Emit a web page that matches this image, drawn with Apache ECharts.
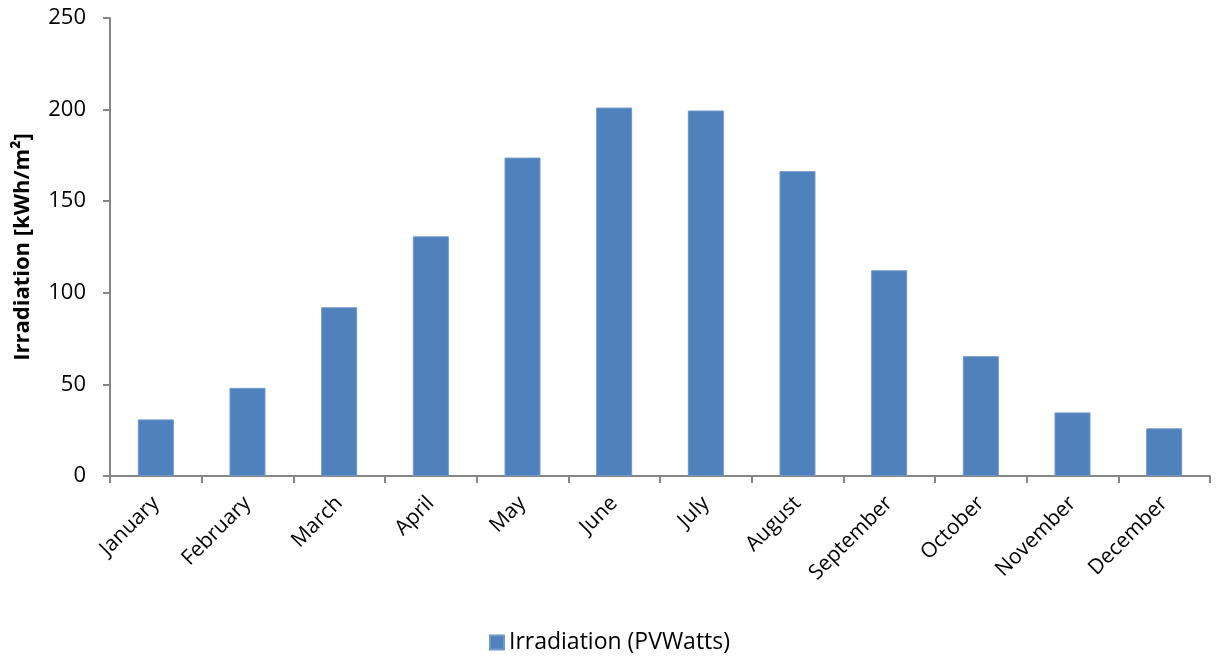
<!DOCTYPE html>
<html>
<head>
<meta charset="utf-8">
<style>
  html, body { margin: 0; padding: 0; background: #ffffff; }
  #chart { width: 1219px; height: 659px; }
</style>
<script src="https://cdn.jsdelivr.net/npm/echarts@6/dist/echarts.min.js"></script>
</head>
<body>
<div id="chart"></div>
<script>
// Monthly irradiation values
const months = ['January', 'February', 'March', 'April', 'May', 'June', 'July', 'August', 'September', 'October', 'November', 'December'];
const irradiation = [30.9, 48.1, 92.1, 130.8, 173.8, 201.1, 199.5, 166.4, 112.3, 65.4, 34.7, 26.0];
const seriesName = 'Irradiation (PVWatts)';
const yAxisTitle = 'Irradiation [kWh/m\u00B2]';

const font = 'Open Sans, Noto Sans, sans-serif';
const axisGrey = '#868686';

const chart = echarts.init(document.getElementById('chart'), null, { renderer: 'canvas' });
chart.setOption({
  animation: false,
  backgroundColor: '#ffffff',
  grid: { left: 110, right: 9, top: 18, bottom: 183, containLabel: false },
  legend: {
    bottom: 0,
    left: 'center',
    itemWidth: 14,
    itemHeight: 14,
    itemGap: 7,
    icon: 'rect',
    textStyle: { fontFamily: font, fontSize: 23, color: '#000000' },
    data: [seriesName]
  },
  xAxis: {
    type: 'category',
    data: months,
    axisLine: { lineStyle: { color: axisGrey, width: 2 } },
    axisTick: { show: true, length: 7, lineStyle: { color: axisGrey, width: 2 } },
    axisLabel: {
      rotate: 45,
      interval: 0,
      margin: 24,
      fontFamily: font,
      fontSize: 21,
      color: '#000000'
    }
  },
  yAxis: {
    type: 'value',
    min: 0,
    max: 250,
    interval: 50,
    name: yAxisTitle,
    nameLocation: 'middle',
    nameGap: 76,
    nameRotate: 90,
    nameTextStyle: { fontFamily: font, fontSize: 22, fontWeight: 'bold', color: '#000000' },
    axisLine: { show: true, lineStyle: { color: axisGrey, width: 2 } },
    axisTick: { show: true, length: 7, lineStyle: { color: axisGrey, width: 2 } },
    splitLine: { show: false },
    axisLabel: { fontFamily: font, fontSize: 22, color: '#000000', margin: 24 }
  },
  series: [{
    name: seriesName,
    type: 'bar',
    data: irradiation,
    barWidth: 36,
    itemStyle: { color: '#4F81BD', borderColor: '#6f97c9', borderWidth: 1 }
  }]
});
</script>
</body>
</html>
